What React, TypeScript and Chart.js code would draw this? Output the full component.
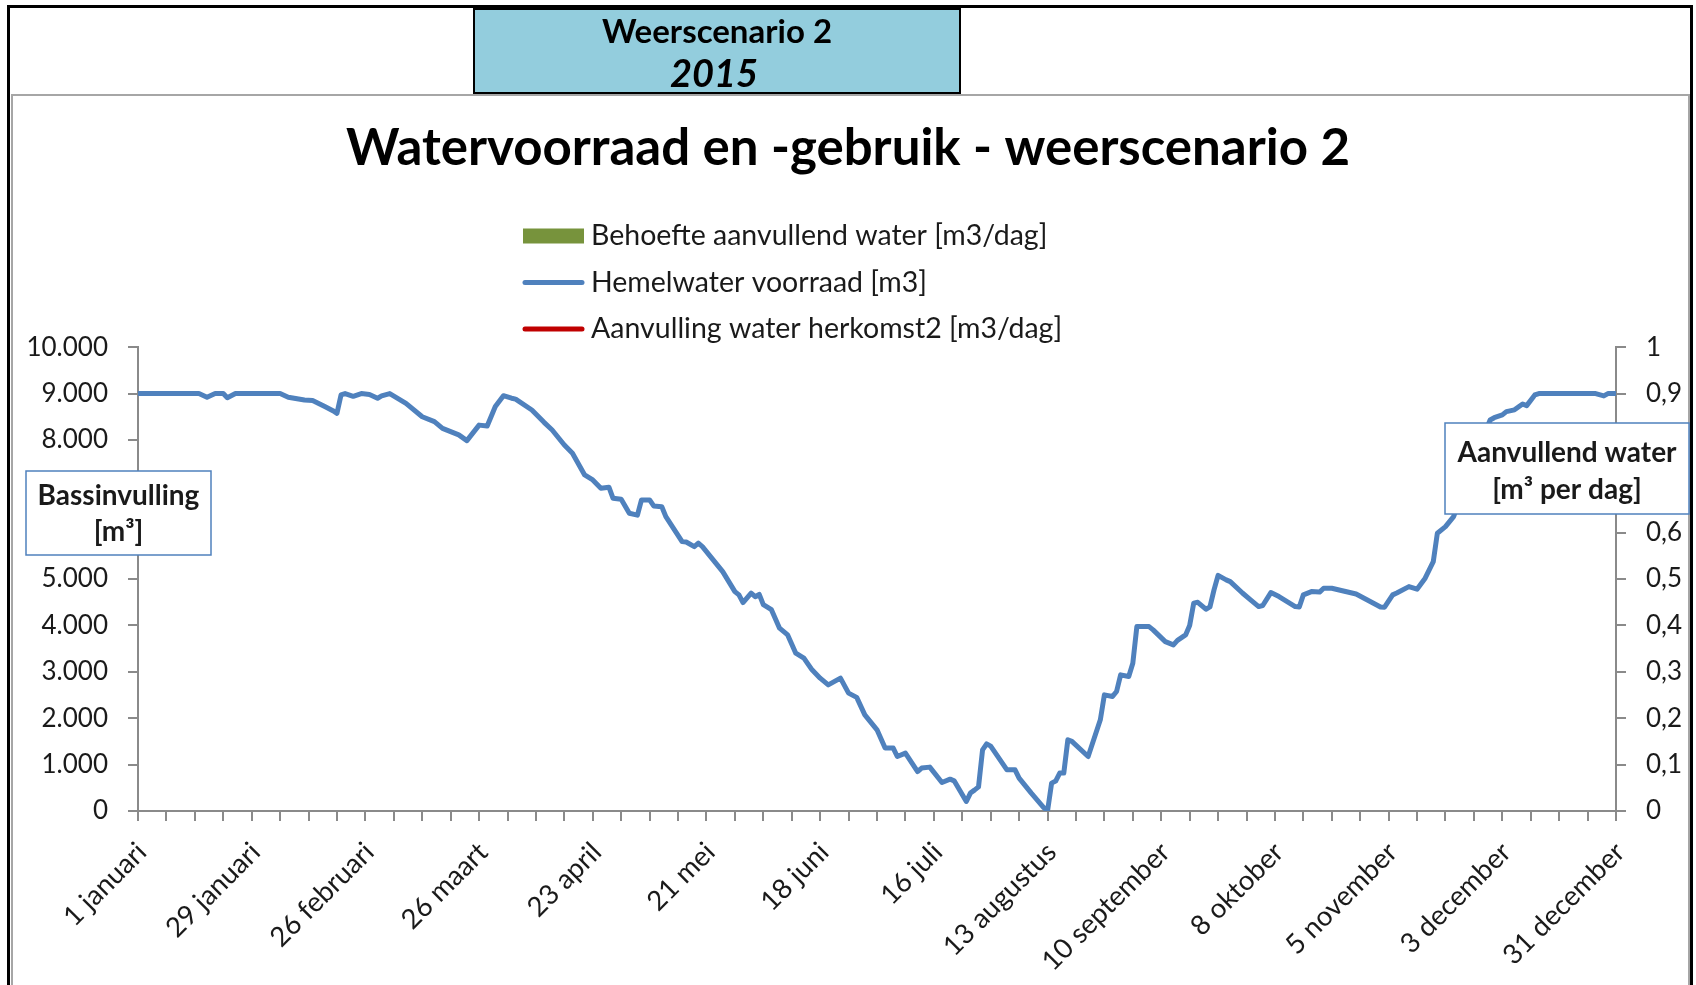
import React, { useEffect, useRef } from 'react';
import { Chart, registerables } from 'chart.js';

Chart.register(...registerables);

// ---- data ----
const dateLabels = [
  '1 januari', '29 januari', '26 februari', '26 maart', '23 april', '21 mei', '18 juni',
  '16 juli', '13 augustus', '10 september', '8 oktober', '5 november', '3 december', '31 december',
];

const dayOfYear = [
  0, 14, 15, 17, 19, 21, 22, 24, 35, 37, 41, 43, 46, 48, 49, 50, 51, 53, 55, 57, 59, 60, 62,
  66, 70, 73, 75, 79, 81, 84, 86, 88, 90, 92, 93, 97, 100, 102, 105, 107, 110, 112, 114, 116,
  117, 119, 121, 123, 124, 126, 127, 129, 130, 134, 135, 137, 138, 139, 142, 144, 147, 148,
  149, 151, 152, 153, 154, 156, 158, 160, 162, 164, 166, 168, 170, 173, 175, 177, 179, 182,
  184, 186, 187, 189, 192, 193, 195, 198, 200, 201, 204, 205, 206, 207, 208, 209, 210, 214,
  216, 217, 220, 223, 224, 225, 226, 227, 228, 229, 230, 234, 237, 238, 240, 241, 242, 244,
  245, 246, 249, 250, 253, 255, 256, 258, 259, 260, 261, 263, 264, 265, 266, 268, 269, 272,
  274, 276, 277, 279, 281, 285, 286, 287, 289, 291, 292, 294, 300, 306, 307, 309, 310, 313,
  315, 317, 319, 320, 322, 324, 332, 333, 334, 336, 337, 339, 341, 342, 344, 345, 359, 361,
  362, 364,
];

// Hemelwater voorraad [m3]
const storageM3 = [
  9000, 9000, 9000, 8920, 9000, 9000, 8910, 9000, 9000, 8920, 8860, 8850, 8720, 8630, 8575, 8970, 9000, 8940, 9000, 8980, 8900, 8950, 9000,
  8790, 8500, 8395, 8250, 8110, 7985, 8320, 8300, 8720, 8955, 8900, 8880, 8645, 8380, 8215, 7892, 7713, 7246, 7138, 6959, 6980,
  6743, 6720, 6420, 6380, 6707, 6707, 6578, 6560, 6347, 5808, 5800, 5700, 5774, 5700, 5377, 5162, 4731, 4660,
  4494, 4696, 4620, 4670, 4450, 4340, 3942, 3797, 3403, 3295, 3043, 2864, 2720, 2864, 2541, 2450, 2073, 1750,
  1356, 1356, 1175, 1248, 851, 925, 946, 614, 687, 650, 205, 386, 450, 520, 1319, 1448, 1400, 888,
  888, 709, 386, 80, 0, 601, 645, 817, 817, 1534, 1500, 1175, 1966, 2504, 2470, 2576, 2935, 2900,
  3187, 3976, 3976, 3905, 3653, 3582, 3680, 3797, 4000, 4481, 4500, 4351, 4400, 4767, 5080, 4983, 4946, 4700,
  4552, 4408, 4430, 4710, 4623, 4408, 4400, 4660, 4731, 4720, 4803, 4803, 4680, 4400, 4394, 4660, 4700, 4838,
  4782, 5019, 5377, 5989, 6131, 6347, 8216, 8431, 8480, 8540, 8610, 8650, 8776, 8740, 8970, 9000, 9000, 8950,
  9000, 9000,
];

// Behoefte aanvullend water [m3/dag] and Aanvulling water herkomst2 [m3/dag]: no visible values
const demandM3PerDay: number[] = [];
const supplyM3PerDay: number[] = [];

const leftAxisMax = 10000;
const leftAxisStep = 1000;
const rightAxisMax = 1;
const rightAxisStep = 0.1;
const tickEveryDays = 7;
const labelEveryDays = 28;
const lastDay = 364;

const seriesNames = [
  'Behoefte aanvullend water [m3/dag]',
  'Hemelwater voorraad [m3]',
  'Aanvulling water herkomst2 [m3/dag]',
];
const chartTitle = 'Watervoorraad en -gebruik - weerscenario 2';

// ---- styling ----
const FONT = 'Lato, "Open Sans", sans-serif';
const AXIS_GRAY = '#8a8a8a';
const TEXT = '#1a1a1a';
const BLUE = '#4F81BD';
const GREEN = '#77933C';
const RED = '#C00000';
const W = 1696;
const H = 985;

const fmtThousands = (v: number) =>
  String(Math.round(v)).replace(/\B(?=(\d{3})+(?!\d))/g, '.');
const fmtComma = (v: number) => String(Math.round(v * 10) / 10).replace('.', ',');

const decorPlugin = {
  id: 'decor',
  beforeDraw(chart: any) {
    const ctx = chart.ctx;
    ctx.save();
    ctx.fillStyle = '#ffffff';
    ctx.fillRect(0, 0, W, H);
    // outer black frame
    ctx.strokeStyle = '#000';
    ctx.lineWidth = 3;
    ctx.strokeRect(8.5, 6.5, 1683, 1100);
    // chart object gray border
    ctx.strokeStyle = '#a6a6a6';
    ctx.lineWidth = 2;
    ctx.strokeRect(12, 95, 1677, 1100);
    ctx.restore();
  },
  afterDraw(chart: any) {
    const ctx = chart.ctx;
    ctx.save();
    // legend, one row per series
    chart.data.datasets.forEach((ds: any, i: number) => {
      const y = 236 + i * 46.5;
      if (ds.type === 'bar') {
        ctx.fillStyle = ds.backgroundColor;
        ctx.fillRect(523, y - 7.5, 61, 15);
      } else {
        ctx.strokeStyle = ds.borderColor;
        ctx.lineWidth = 5;
        ctx.lineCap = 'round';
        ctx.beginPath();
        ctx.moveTo(525, y);
        ctx.lineTo(582, y);
        ctx.stroke();
      }
      ctx.fillStyle = TEXT;
      ctx.font = `28.5px ${FONT}`;
      ctx.textAlign = 'left';
      ctx.textBaseline = 'middle';
      ctx.fillText(ds.label, 591, y);
    });
    // axis title boxes
    const box = (x: number, y: number, w: number, h: number, l1: string, y1: number, l2: string, y2: number) => {
      ctx.fillStyle = '#fff';
      ctx.fillRect(x, y, w, h);
      ctx.strokeStyle = BLUE;
      ctx.lineWidth = 1.5;
      ctx.strokeRect(x, y, w, h);
      ctx.fillStyle = TEXT;
      ctx.font = `bold 28px ${FONT}`;
      ctx.textAlign = 'center';
      ctx.textBaseline = 'middle';
      ctx.fillText(l1, x + w / 2, y1);
      ctx.fillText(l2, x + w / 2, y2);
    };
    box(26, 471, 185, 84, 'Bassinvulling', 496, '[m³]', 532);
    box(1445, 423, 244, 91, 'Aanvullend water', 453, '[m³ per dag]', 490);
    ctx.restore();
  },
};

export default function App() {
  const ref = useRef<HTMLCanvasElement | null>(null);

  useEffect(() => {
    document.body.style.margin = '0';
    const canvas = ref.current;
    if (!canvas) return;
    const tickFont = { family: FONT, size: 26 };
    const chart = new Chart(canvas, {
      type: 'line',
      data: {
        datasets: [
          {
            type: 'bar',
            label: seriesNames[0],
            data: demandM3PerDay as any,
            backgroundColor: GREEN,
            yAxisID: 'y1',
          } as any,
          {
            type: 'line',
            label: seriesNames[1],
            data: dayOfYear.map((d, i) => ({ x: d, y: storageM3[i] })),
            borderColor: BLUE,
            backgroundColor: BLUE,
            borderWidth: 5,
            pointRadius: 0,
            tension: 0,
            borderJoinStyle: 'round',
            borderCapStyle: 'round',
            yAxisID: 'y',
          },
          {
            type: 'line',
            label: seriesNames[2],
            data: supplyM3PerDay as any,
            borderColor: RED,
            backgroundColor: RED,
            borderWidth: 5,
            pointRadius: 0,
            yAxisID: 'y1',
          },
        ],
      },
      options: {
        responsive: false,
        animation: false,
        layout: { padding: 0 },
        plugins: {
          legend: { display: false },
          tooltip: { enabled: false },
          title: {
            display: true,
            text: chartTitle,
            color: '#000',
            font: { family: FONT, size: 51, weight: 'bold', lineHeight: 1.2 },
            padding: { top: 118, bottom: 168 },
          },
        },
        scales: {
          x: {
            type: 'linear',
            offset: false,
            min: 0,
            max: lastDay,
            position: 'bottom',
            afterFit: (s: any) => { s.height = H - 811; },
            grid: { offset: false, drawOnChartArea: false, tickLength: 10, color: AXIS_GRAY, lineWidth: 2 },
            border: { color: AXIS_GRAY, width: 2 },
            ticks: {
              stepSize: tickEveryDays,
              maxTicksLimit: 100,
              autoSkip: false,
              minRotation: 45,
              maxRotation: 45,
              padding: 15,
              labelOffset: 4,
              color: TEXT,
              font: { family: FONT, size: 27.5 },
              callback: (v: any) => {
                const n = Number(v);
                return n % labelEveryDays === 0 ? dateLabels[n / labelEveryDays] : '';
              },
            },
          },
          y: {
            type: 'linear',
            position: 'left',
            min: 0,
            max: leftAxisMax,
            afterFit: (s: any) => { s.width = 138; },
            grid: { drawOnChartArea: false, tickLength: 10, color: AXIS_GRAY, lineWidth: 2 },
            border: { color: AXIS_GRAY, width: 2 },
            ticks: {
              stepSize: leftAxisStep,
              padding: 20,
              color: TEXT,
              font: tickFont,
              callback: (v: any) => fmtThousands(Number(v)),
            },
          },
          y1: {
            type: 'linear',
            position: 'right',
            min: 0,
            max: rightAxisMax,
            afterFit: (s: any) => { s.width = W - 1616; },
            grid: { drawOnChartArea: false, tickLength: 10, color: AXIS_GRAY, lineWidth: 2 },
            border: { color: AXIS_GRAY, width: 2 },
            ticks: {
              stepSize: rightAxisStep,
              padding: 20,
              color: TEXT,
              font: tickFont,
              callback: (v: any) => fmtComma(Number(v)),
            },
          },
        },
      },
      plugins: [decorPlugin],
    });
    return () => chart.destroy();
  }, []);

  return (
    <div style={{ position: 'relative', width: W, height: H, overflow: 'hidden', background: '#fff' }}>
      <canvas ref={ref} width={W} height={H} style={{ position: 'absolute', left: 0, top: 0 }} />
      <div
        style={{
          position: 'absolute',
          left: 473,
          top: 8,
          width: 488,
          height: 86,
          boxSizing: 'border-box',
          background: '#93CDDD',
          border: '2px solid #000',
          fontFamily: FONT,
          color: '#000',
          textAlign: 'center',
        }}
      >
        <div style={{ position: 'absolute', left: 0, right: 0, top: 0, lineHeight: '40px', fontSize: 33, fontWeight: 'bold' }}>
          Weerscenario 2
        </div>
        <div style={{ position: 'absolute', left: 0, right: 6, top: 40, lineHeight: '44px', fontSize: 38, fontWeight: 'bold', fontStyle: 'italic' }}>
          2015
        </div>
      </div>
    </div>
  );
}
